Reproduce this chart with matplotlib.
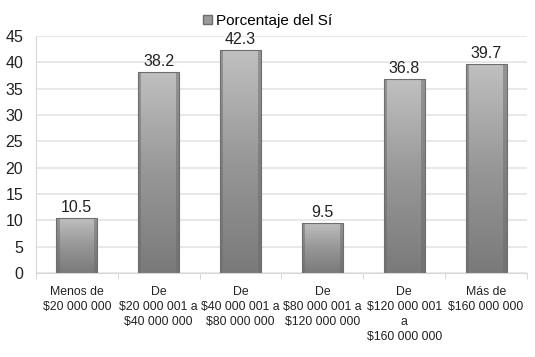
import numpy as np
import matplotlib
matplotlib.use("Agg")
import matplotlib.pyplot as plt
from matplotlib.patches import Patch

plt.rcParams['font.family'] = ['Liberation Sans Narrow', 'Liberation Sans', 'DejaVu Sans']

categories = [
    "Menos de\n$20 000 000",
    "De\n$20 000 001 a\n$40 000 000",
    "De\n$40 000 001 a\n$80 000 000",
    "De\n$80 000 001 a\n$120 000 000",
    "De\n$120 000 001\na\n$160 000 000",
    "Más de\n$160 000 000",
]
values = [10.5, 38.2, 42.3, 9.5, 36.8, 39.7]
series_name = "Porcentaje del Sí"

fig = plt.figure(figsize=(5.35, 3.57), dpi=100)
ax = fig.add_axes([0.067, 0.235, 0.918, 0.664])

x = np.arange(len(values))
bars = ax.bar(x, values, width=0.5, color='none', edgecolor='#6e6e6e', linewidth=0.8, zorder=3)

# vertical gradient inside each bar: light at top, darker at bottom
grad = np.linspace(0, 1, 256).reshape(-1, 1)
cmap = matplotlib.colors.LinearSegmentedColormap.from_list('g', ['#7a7a7a', '#979797', '#c0c0c0'])
for b in bars:
    x0, w, h = b.get_x(), b.get_width(), b.get_height()
    im = ax.imshow(grad, extent=[x0, x0 + w, 0, h], origin='lower', cmap=cmap,
                   aspect='auto', zorder=2, interpolation='bilinear')
    im.set_clip_path(b)
    # darker side edges
    ax.bar(x0 + w * 0.04, h, width=w * 0.08, color='#6a6a6a', alpha=0.5, zorder=2.5)
    ax.bar(x0 + w * 0.96, h, width=w * 0.08, color='#6a6a6a', alpha=0.5, zorder=2.5)

for xi, v in zip(x, values):
    ax.text(xi, v + 0.6, f"{v}", ha='center', va='bottom', fontsize=11.5, color='#222222')

ax.set_xlim(-0.5, len(values) - 0.5)
ax.set_ylim(0, 45)
ax.set_yticks(range(0, 46, 5))
ax.tick_params(axis='y', labelsize=11.5, length=0, pad=9, colors='#222222')
ax.set_xticks(x)
ax.set_xticklabels(categories, fontsize=8.8, color='#222222', linespacing=1.35)
ax.tick_params(axis='x', length=0, pad=9)
ax.set_xticks(np.arange(-0.5, len(values), 1), minor=True)
ax.tick_params(axis='x', which='minor', length=4, color='#d0d0d0', direction='out')

ax.yaxis.grid(True, color='#e4e4e4', linewidth=1.2, zorder=0)
ax.set_axisbelow(True)
for s in ['top', 'right']:
    ax.spines[s].set_visible(False)
ax.spines['left'].set_color('#d8d8d8')
ax.spines['bottom'].set_color('#d8d8d8')

fig.legend(handles=[Patch(facecolor='#9a9a9a', edgecolor='#6e6e6e', label=series_name)],
           loc='upper center', bbox_to_anchor=(0.5, 1.0), frameon=False, fontsize=11,
           handlelength=0.6, handleheight=0.6, handletextpad=0.2)

fig.savefig('out.png', dpi=100)
